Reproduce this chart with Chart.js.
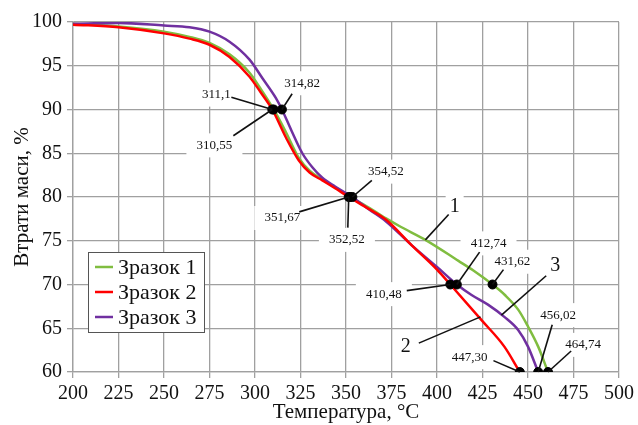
<!DOCTYPE html>
<html>
<head>
<meta charset="utf-8">
<script src="https://cdn.jsdelivr.net/npm/chart.js@4.4.1/dist/chart.umd.min.js"></script>
<style>
    html, body { margin:0; padding:0; background:#fff; }
    #wrap { width:638px; height:425px; }
</style>
</head>
<body>
<div id="wrap"><canvas id="tgChart"></canvas></div>
<script>

/* ==========================================================
   DATA
========================================================== */

const seriesNames = ["Зразок 1", "Зразок 2", "Зразок 3"];

const tempSample1 = [200, 225, 250, 264, 275, 286, 297, 303, 310.3, 317, 324, 330, 337, 344, 352.3, 362.5, 372, 380, 393.6, 411.8, 420, 430.5, 437.3, 444.7, 450, 455.6, 461];
const lossSample1 = [99.8, 99.5, 98.9, 98.3, 97.6, 96.3, 94.2, 92.4, 90.0, 87.4, 84.5, 83.0, 82.0, 81.1, 80.0, 78.8, 77.55, 76.6, 75.1, 72.7, 71.6, 70.0, 68.8, 67.1, 65.2, 62.9, 60.0];

const tempSample2 = [200, 225, 250, 264, 275, 286, 297, 303, 309.5, 317, 324, 330, 337, 344, 351.5, 362, 372, 386, 400, 407.3, 424.6, 437, 445.5];
const lossSample2 = [99.7, 99.4, 98.7, 98.1, 97.4, 96.0, 93.75, 92.0, 90.0, 86.8, 84.2, 82.8, 81.9, 81.0, 80.0, 78.7, 77.4, 74.5, 71.7, 70.0, 65.9, 62.9, 60.0];

const tempSample3 = [200, 225, 250, 264, 275, 286, 297, 304, 311.5, 314.8, 320, 326, 331.5, 337, 344, 353.5, 362.5, 372, 386, 400, 410.9, 419, 428, 437, 444.6, 450, 455.6];
const lossSample3 = [99.8, 99.9, 99.6, 99.4, 98.9, 97.75, 95.7, 93.6, 91.3, 90.0, 87.6, 85.0, 83.4, 82.2, 81.2, 80.0, 78.6, 77.2, 74.5, 72.0, 70.0, 68.8, 67.7, 66.3, 64.8, 62.9, 60.0];

const seriesColours = ["#80bd40", "#ff0000", "#7030a0"];

/* marked points */
const markTemp = [309.5, 310.3, 314.8, 351.5, 352.3, 353.5, 407.3, 410.9, 430.5, 445.5, 455.6, 461];
const markLoss = [90, 90, 90, 80, 80, 80, 70, 70, 70, 60, 60, 60];

/* labels: text, text x, text y, leader from x,y, leader to x,y, big */
const notes = [
    ["311,1",  278.8, 91.7, 287.0, 91.4, 309.5, 90, false],
    ["314,82", 325.9, 93.0, 320.4, 91.8, 314.8, 90, false],
    ["310,55", 277.7, 85.9, 288.1, 87.0, 309.5, 90, false],
    ["354,52", 371.9, 82.9, 364.2, 81.9, 353.5, 80, false],
    ["351,67", 315.0, 77.6, 324.3, 78.3, 351.5, 80, false],
    ["352,52", 350.5, 75.1, 351.0, 76.5, 351.5, 80, false],
    ["1",      409.7, 78.9, 406.4, 78.0, 393.6, 75.1, true],
    ["412,74", 428.3, 74.7, 423.4, 73.7, 410.9, 70, false],
    ["410,48", 370.8, 68.9, 383.4, 69.3, 407.3, 70, false],
    ["431,62", 441.4, 72.6, 436.5, 71.7, 430.5, 70, false],
    ["3",      465.0, 72.2, 460.0, 71.0, 435.4, 66.5, true],
    ["2",      382.8, 62.9, 390.0, 63.3, 423.9, 66.3, true],
    ["456,02", 466.6, 66.5, 463.3, 65.4, 455.6, 60, false],
    ["464,74", 480.3, 63.1, 473.7, 62.4, 461, 60, false],
    ["447,30", 417.9, 61.7, 431.0, 61.3, 445.5, 60, false]
];


/* ==========================================================
   GLOBAL SETTINGS
========================================================== */

const serif = "'Liberation Serif', 'Times New Roman', serif";

Chart.defaults.font.family = serif;
Chart.defaults.color = "#111";
Chart.defaults.animation = false;

const gridColour = "#a0a0a0";


function toPoints(xs, ys){
    return xs.map((x, i) => ({ x:x, y:ys[i] }));
}


/* ==========================================================
   ANNOTATIONS PLUGIN
========================================================== */

const notesPlugin = {

    id:"notes",

    beforeDatasetsDraw(chart){

        const ctx = chart.ctx;
        const xs = chart.scales.x;
        const ys = chart.scales.y;

        ctx.save();
        ctx.fillStyle = "#fff";

        notes.forEach(n => {
            const px = xs.getPixelForValue(n[1]);
            const py = ys.getPixelForValue(n[2]);
            const w = n[7] ? 18 : 56;
            const h = n[7] ? 22 : 24;
            ctx.fillRect(px - w / 2, py - h / 2, w, h);
        });

        ctx.restore();

    },

    afterDatasetsDraw(chart){

        const ctx = chart.ctx;
        const xs = chart.scales.x;
        const ys = chart.scales.y;

        ctx.save();

        ctx.strokeStyle = "#111";
        ctx.lineWidth = 1.6;

        notes.forEach(n => {
            ctx.beginPath();
            ctx.moveTo(xs.getPixelForValue(n[3]), ys.getPixelForValue(n[4]));
            ctx.lineTo(xs.getPixelForValue(n[5]), ys.getPixelForValue(n[6]));
            ctx.stroke();
        });

        ctx.fillStyle = "#111";
        ctx.textAlign = "center";
        ctx.textBaseline = "middle";

        notes.forEach(n => {
            ctx.font = n[7] ? "20px " + serif : "13px " + serif;
            ctx.fillText(n[0], xs.getPixelForValue(n[1]), ys.getPixelForValue(n[2]));
        });

        ctx.restore();

    }

};


/* ==========================================================
   LEGEND PLUGIN (inside plot)
========================================================== */

const boxLegend = {

    id:"boxLegend",

    afterDraw(chart){

        const ctx = chart.ctx;
        const area = chart.chartArea;

        const left = area.left + 15;
        const top = area.top + 230;
        const width = 116;
        const height = 80;

        ctx.save();

        ctx.fillStyle = "#fff";
        ctx.fillRect(left, top, width, height);
        ctx.strokeStyle = "#555";
        ctx.lineWidth = 1;
        ctx.strokeRect(left + 0.5, top + 0.5, width, height);

        ctx.font = "22px " + serif;
        ctx.textBaseline = "middle";
        ctx.textAlign = "left";

        seriesNames.forEach((name, i) => {
            const y = top + 15 + i * 25;
            ctx.strokeStyle = seriesColours[i];
            ctx.lineWidth = 2.5;
            ctx.beginPath();
            ctx.moveTo(left + 7, y);
            ctx.lineTo(left + 25, y);
            ctx.stroke();
            ctx.fillStyle = "#111";
            ctx.fillText(name, left + 30, y + 1);
        });

        ctx.restore();

    }

};


/* ==========================================================
   CHART
========================================================== */

const lineSet = (i, xs, ys, order) => ({
    label:seriesNames[i],
    data:toPoints(xs, ys),
    borderColor:seriesColours[i],
    borderWidth:2.5,
    pointRadius:0,
    showLine:true,
    cubicInterpolationMode:"monotone",
    fill:false,
    order:order
});

new Chart(
    document.getElementById("tgChart").getContext("2d"),
    {
        type:"scatter",
        data:{
            datasets:[
                lineSet(0, tempSample1, lossSample1, 3),
                lineSet(2, tempSample3, lossSample3, 2),
                lineSet(1, tempSample2, lossSample2, 1),
                {
                    label:"marks",
                    data:toPoints(markTemp, markLoss),
                    pointRadius:4.5,
                    pointBackgroundColor:"#000",
                    pointBorderColor:"#000",
                    showLine:false,
                    order:0
                }
            ]
        },
        options:{
            responsive:true,
            maintainAspectRatio:false,
            layout:{
                padding:{ top:22, right:17, left:0, bottom:0 }
            },
            plugins:{
                legend:{ display:false },
                tooltip:{ enabled:false }
            },
            scales:{
                x:{
                    type:"linear",
                    min:200,
                    max:500,
                    afterFit:function(scale){ scale.height = 53; },
                    ticks:{
                        stepSize:25,
                        padding:4,
                        font:{ size:20 },
                        color:"#111"
                    },
                    grid:{
                        color:gridColour,
                        lineWidth:1.3,
                        tickLength:6
                    },
                    border:{ color:gridColour, width:1.3 },
                    title:{
                        display:true,
                        text:"Температура, °C",
                        font:{ size:21 },
                        color:"#111",
                        padding:{ top:0, bottom:0 }
                    }
                },
                y:{
                    min:60,
                    max:100,
                    afterFit:function(scale){ scale.width = 73; },
                    ticks:{
                        stepSize:5,
                        padding:5,
                        font:{ size:20 },
                        color:"#111"
                    },
                    grid:{
                        color:gridColour,
                        lineWidth:1.3,
                        tickLength:6
                    },
                    border:{ color:gridColour, width:1.3 },
                    title:{
                        display:true,
                        text:"Втрати маси, %",
                        font:{ size:21 },
                        color:"#111",
                        padding:{ top:10, bottom:0 }
                    }
                }
            }
        },
        plugins:[notesPlugin, boxLegend]
    }
);

</script>
</body>
</html>
